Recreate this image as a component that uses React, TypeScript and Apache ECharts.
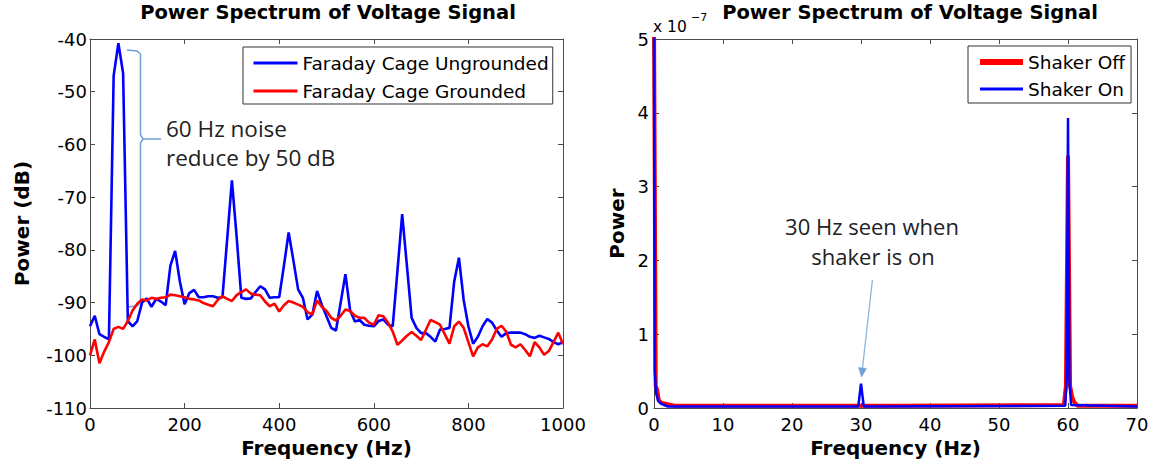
import React, { useEffect, useRef } from "react";
import * as echarts from "echarts";

// ---------- Left panel data (Faraday cage) ----------
const leftFreqHz = [
  0, 10, 20, 30, 40, 50, 60, 70, 80, 90,
  100, 110, 120, 130, 140, 150, 160, 170, 180, 190,
  200, 210, 220, 230, 240, 250, 260, 270, 280, 290,
  300, 310, 320, 330, 340, 350, 360, 370, 380, 390,
  400, 410, 420, 430, 440, 450, 460, 470, 480, 490,
  500, 510, 520, 530, 540, 550, 560, 570, 580, 590,
  600, 610, 620, 630, 640, 650, 660, 670, 680, 690,
  700, 710, 720, 730, 740, 750, 760, 770, 780, 790,
  800, 810, 820, 830, 840, 850, 860, 870, 880, 890,
  900, 910, 920, 930, 940, 950, 960, 970, 980, 990,
  1000,
];
const ungroundedDb = [
  -94.5, -92.5, -96, -96.5, -97, -47, -40.8, -46.5, -93.5, -94.5,
  -93.5, -90, -89.2, -90.8, -89.3, -89.8, -90.5, -83, -80.2, -86,
  -90.3, -88.2, -87.6, -89, -89, -88.8, -88.8, -89.1, -89, -78,
  -66.8, -77.5, -89.1, -89.3, -89.2, -88, -86.9, -87.5, -89.1, -89,
  -89, -83, -76.7, -82, -87.5, -89.1, -93.2, -92.3, -87.8, -90.4,
  -92.6, -94.8, -95.3, -90, -84.6, -91.5, -93.6, -93.3, -94.2, -94.4,
  -94.5, -93.5, -93.2, -94.2, -94.5, -84, -73.2, -83, -92.9, -94.8,
  -95.8, -95.8, -96.5, -97.4, -95.1, -95, -94.8, -86, -81.5, -89.5,
  -94.5, -97.8, -96.5, -94.5, -93.1, -93.8, -95.3, -96.5, -95.8, -95.7,
  -95.7, -95.7, -96, -96.5, -96.7, -96.3, -96.6, -96.9, -97.5, -97.9,
  -97.5,
];
const groundedDb = [
  -100, -97, -101.5, -99.3, -97.5, -95, -94.6, -95, -93.5, -91.5,
  -90.2, -89.4, -89.6, -89.1, -89.3, -89.1, -89, -88.5, -88.6, -88.8,
  -89, -89.3, -89.4, -89.6, -90.1, -90.4, -90.7, -89.5, -88.8, -89.3,
  -89.7, -88.6, -88, -87.5, -88.3, -88.5, -88.6, -89.8, -90.7, -90.2,
  -91.7, -90.5, -89.7, -90, -90.4, -90.8, -91.8, -92.3, -89.6, -90.8,
  -91.6, -92.9, -93.4, -92.5, -91.3, -91.6, -92.5, -92.9, -92.9, -93.8,
  -94.2, -92.4, -92.6, -93.8, -95.5, -98, -97.2, -96.3, -95.6, -96.3,
  -97.1, -95.2, -93.3, -93.7, -94.2, -96, -97.8, -94.5, -93.6, -94.8,
  -97.5, -100.2, -98.5, -97.9, -98.3, -97, -95, -94.4, -95.5, -98,
  -98.5, -97.9, -99, -100.2, -97.5, -98.5, -99.9, -99.2, -97.5, -95.7,
  -97.9,
];
const leftXRange = [0, 1000, 200];
const leftYRange = [-110, -40, 10];

// ---------- Right panel data (shaker), power in units of 1e-7 ----------
const shakerOffFreq = [0, 0.1, 0.25, 0.45, 0.7, 1.1, 2, 3, 35, 59.4, 59.7, 60, 60.3, 60.6, 60.9, 61.4, 70];
const shakerOffPower = [5.3, 3.3, 0.3, 0.25, 0.1, 0.07, 0.05, 0.03, 0.03, 0.04, 0.3, 3.42, 0.3, 0.15, 0.08, 0.03, 0.03];
const shakerOnFreq = [0, 0.1, 0.3, 0.6, 1, 2, 29.6, 30, 30.4, 59.6, 59.8, 60, 60.2, 60.45, 70];
const shakerOnPower = [5.3, 0.5, 0.2, 0.1, 0.06, 0.02, 0.02, 0.33, 0.02, 0.03, 0.4, 3.93, 0.4, 0.04, 0.02];
const rightXRange = [0, 70, 10];
const rightYRange = [0, 5, 1];

const titleText = "Power Spectrum of Voltage Signal";

const axisColor = "#4a4a4a";
const labelFont = { fontFamily: "DejaVu Sans", fontSize: 18, color: "#000" };
const nameFont = { fontFamily: "DejaVu Sans", fontWeight: "bold" as const, fontSize: 20, color: "#000" };
const annoColor = "#6fa0d8";
const plainNumber = (v: number) => String(v);

function pairs(xs: number[], ys: number[]) {
  return xs.map((x, i) => [x, ys[i]]);
}

function xAxisCfg(gridIndex: number, r: number[], position: "bottom" | "top", name?: string) {
  const main = position === "bottom";
  return {
    type: "value",
    gridIndex,
    position,
    min: r[0],
    max: r[1],
    interval: r[2],
    name: main ? name : undefined,
    nameLocation: "middle",
    nameGap: 28,
    nameTextStyle: nameFont,
    axisLine: { show: true, onZero: false, lineStyle: { color: axisColor, width: 1 } },
    axisTick: { show: true, inside: true, length: 5, lineStyle: { color: axisColor } },
    axisLabel: { show: main, margin: 7, formatter: plainNumber, ...labelFont },
    splitLine: { show: false },
  };
}

function yAxisCfg(gridIndex: number, r: number[], position: "left" | "right", name: string | undefined, nameGap: number, margin: number) {
  const main = position === "left";
  return {
    type: "value",
    gridIndex,
    position,
    min: r[0],
    max: r[1],
    interval: r[2],
    name: main ? name : undefined,
    nameLocation: "middle",
    nameGap,
    nameRotate: 90,
    nameTextStyle: nameFont,
    axisLine: { show: true, onZero: false, lineStyle: { color: axisColor, width: 1 } },
    axisTick: { show: true, inside: true, length: 5, lineStyle: { color: axisColor } },
    axisLabel: { show: main, margin, formatter: plainNumber, ...labelFont },
    splitLine: { show: false },
  };
}

const legendText = { fontFamily: "DejaVu Sans", fontSize: 18.5, color: "#000", lineHeight: 20 };
const hiddenSymbol = { opacity: 0 };

export default function App() {
  const ref = useRef<HTMLDivElement>(null);

  useEffect(() => {
    if (!ref.current) return;
    const chart = echarts.init(ref.current, null, { renderer: "svg" });

    const option: any = {
      animation: false,
      backgroundColor: "#fff",
      title: [
        {
          text: titleText,
          left: 328,
          top: 2,
          textAlign: "center",
          padding: 0,
          textStyle: { fontFamily: "DejaVu Sans", fontWeight: "bold", fontSize: 19.5, color: "#000" },
        },
        {
          text: titleText,
          left: 910,
          top: 2,
          textAlign: "center",
          padding: 0,
          textStyle: { fontFamily: "DejaVu Sans", fontWeight: "bold", fontSize: 19.5, color: "#000" },
        },
      ],
      grid: [
        { left: 90, top: 39, width: 473, height: 369 },
        { left: 654, top: 39, width: 483, height: 369 },
      ],
      xAxis: [
        xAxisCfg(0, leftXRange, "bottom", "Frequency (Hz)"),
        xAxisCfg(0, leftXRange, "top"),
        xAxisCfg(1, rightXRange, "bottom", "Frequency (Hz)"),
        xAxisCfg(1, rightXRange, "top"),
      ],
      yAxis: [
        yAxisCfg(0, leftYRange, "left", "Power (dB)", 58, 3),
        yAxisCfg(0, leftYRange, "right", undefined, 0, 3),
        yAxisCfg(1, rightYRange, "left", "Power", 27, 5),
        yAxisCfg(1, rightYRange, "right", undefined, 0, 5),
      ],
      legend: [
        {
          orient: "vertical",
          left: 243,
          top: 47,
          padding: [6, 4, 3, 9],
          itemWidth: 44,
          itemHeight: 20,
          itemGap: 8,
          borderColor: "#333",
          borderWidth: 1,
          backgroundColor: "#fff",
          textStyle: legendText,
          itemStyle: hiddenSymbol,
          data: [
            { name: "Faraday Cage Ungrounded", lineStyle: { width: 3 }, itemStyle: hiddenSymbol },
            { name: "Faraday Cage Grounded", lineStyle: { width: 3 }, itemStyle: hiddenSymbol },
          ],
        },
        {
          orient: "vertical",
          left: 968,
          top: 46,
          padding: [6, 6, 4, 9],
          itemWidth: 43,
          itemHeight: 20,
          itemGap: 7,
          borderColor: "#333",
          borderWidth: 1,
          backgroundColor: "#fff",
          textStyle: legendText,
          itemStyle: hiddenSymbol,
          data: [
            { name: "Shaker Off", lineStyle: { width: 6 }, itemStyle: hiddenSymbol },
            { name: "Shaker On", lineStyle: { width: 3 }, itemStyle: hiddenSymbol },
          ],
        },
      ],
      series: [
        {
          name: "Faraday Cage Ungrounded",
          type: "line",
          xAxisIndex: 0,
          yAxisIndex: 0,
          symbol: "none",
          data: pairs(leftFreqHz, ungroundedDb),
          lineStyle: { color: "#0000ff", width: 2.6 },
          itemStyle: { color: "#0000ff" },
        },
        {
          name: "Faraday Cage Grounded",
          type: "line",
          xAxisIndex: 0,
          yAxisIndex: 0,
          symbol: "none",
          data: pairs(leftFreqHz, groundedDb),
          lineStyle: { color: "#ff0000", width: 2.6 },
          itemStyle: { color: "#ff0000" },
        },
        {
          name: "Shaker Off",
          type: "line",
          xAxisIndex: 2,
          yAxisIndex: 2,
          symbol: "none",
          data: pairs(shakerOffFreq, shakerOffPower),
          lineStyle: { color: "#ff0000", width: 4 },
          itemStyle: { color: "#ff0000" },
        },
        {
          name: "Shaker On",
          type: "line",
          xAxisIndex: 2,
          yAxisIndex: 2,
          symbol: "none",
          data: pairs(shakerOnFreq, shakerOnPower),
          lineStyle: { color: "#0000ff", width: 2.5 },
          itemStyle: { color: "#0000ff" },
        },
      ],
      graphic: [
        // brace for 60 Hz annotation
        {
          type: "polyline",
          shape: { points: [[127, 50], [137, 51], [140.5, 54], [140.5, 135], [143, 139], [161, 139]] },
          style: { stroke: annoColor, lineWidth: 1.5, fill: "none" },
        },
        {
          type: "polyline",
          shape: { points: [[143, 139], [140.5, 143], [140.5, 303], [137, 306], [127, 307]] },
          style: { stroke: annoColor, lineWidth: 1.5, fill: "none" },
        },
        {
          type: "text",
          x: 166,
          y: 128,
          style: { text: "60 Hz noise", fill: "#222", fontFamily: "Open Sans", fontSize: 22.5, textVerticalAlign: "middle", verticalAlign: "middle" },
        },
        {
          type: "text",
          x: 166,
          y: 157,
          style: { text: "reduce by 50 dB", fill: "#222", fontFamily: "Open Sans", fontSize: 22.5, textVerticalAlign: "middle", verticalAlign: "middle" },
        },
        // 30 Hz annotation
        {
          type: "text",
          x: 872,
          y: 226,
          style: { text: "30 Hz seen when", fill: "#222", fontFamily: "Open Sans", fontSize: 22, textAlign: "center", align: "center", textVerticalAlign: "middle", verticalAlign: "middle" },
        },
        {
          type: "text",
          x: 873,
          y: 256,
          style: { text: "shaker is on", fill: "#222", fontFamily: "Open Sans", fontSize: 22, textAlign: "center", align: "center", textVerticalAlign: "middle", verticalAlign: "middle" },
        },
        {
          type: "line",
          shape: { x1: 872.4, y1: 280, x2: 862.5, y2: 368 },
          style: { stroke: "#8ab4e0", lineWidth: 1.3 },
        },
        {
          type: "polygon",
          shape: { points: [[861.5, 377], [866.5, 368.4], [858.5, 367.6]] },
          style: { fill: "#6fa0d8", stroke: "#6fa0d8", lineWidth: 0.5 },
        },
        // exponent label
        {
          type: "text",
          x: 653,
          y: 27,
          style: { text: "x 10", fill: "#000", fontFamily: "DejaVu Sans", fontSize: 15.5, textVerticalAlign: "middle", verticalAlign: "middle" },
        },
        {
          type: "text",
          x: 691,
          y: 17,
          style: { text: "−7", fill: "#000", fontFamily: "DejaVu Sans", fontSize: 11, textVerticalAlign: "middle", verticalAlign: "middle" },
        },
      ],
    };

    chart.setOption(option);
    return () => {
      chart.dispose();
    };
  }, []);

  return (
    <div
      ref={ref}
      style={{ position: "absolute", left: 0, top: 0, width: 1153, height: 466, background: "#fff" }}
    />
  );
}
